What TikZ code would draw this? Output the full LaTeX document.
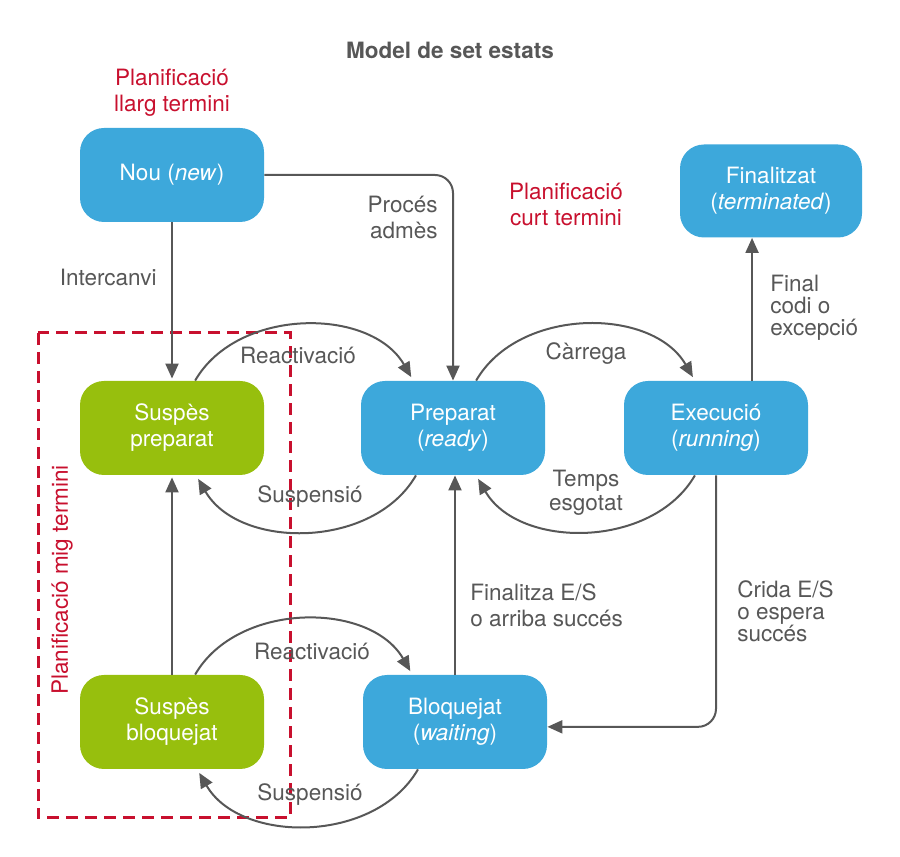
\documentclass[tikz,border=0pt]{standalone}
\usepackage{fontspec}
\setmainfont{TeX Gyre Heros}
\usetikzlibrary{arrows.meta}
\definecolor{stblue}{HTML}{3DA8DB}
\definecolor{stgreen}{HTML}{97BF0D}
\definecolor{stred}{HTML}{C8102E}
\definecolor{stgray}{HTML}{575757}
\begin{document}
\begin{tikzpicture}[x=0.5pt, y=0.5pt,
  font=\fontsize{11.25}{13}\selectfont,
  state/.style={rounded corners=12pt, minimum width=92pt, minimum height=47pt, text=white, align=center, inner sep=0pt},
  bluestate/.style={state, fill=stblue},
  greenstate/.style={state, fill=stgreen},
  lbl/.style={text=stgray, align=center, inner sep=0pt},
  plan/.style={text=stred, align=center, inner sep=0pt},
  arr/.style={draw=stgray, line width=1pt, -{Triangle[length=7.5pt,width=6.5pt]}}]
\useasboundingbox (0,0) rectangle (900,857);
\node[lbl, font=\fontsize{11.25}{13}\selectfont\bfseries] (title) at (450,807){Model de set estats};
\node[plan] (llarg) at (172,764){Planificació\\llarg termini};
\node[plan] (curt) at (566,653){Planificació\\curt termini};
\draw[stred, line width=1.5pt, dash pattern=on 6pt off 3.5pt] (38,524) rectangle (290,39);
\node[plan, rotate=90] (mig) at (62,277){Planificació mig termini};
\node[bluestate] (nou) at (172,682){Nou (\textit{new})};
\node[bluestate, minimum width=91pt, minimum height=46.5pt] (fin) at (771,666){Finalitzat\\(\textit{terminated})};
\node[greenstate] (susprep) at (172,429){Suspès\\preparat};
\node[bluestate] (prep) at (453,429){Preparat\\(\textit{ready})};
\node[bluestate] (exec) at (716,429){Execució\\(\textit{running})};
\node[greenstate] (suspbloq) at (172,135){Suspès\\bloquejat};
\node[bluestate] (bloq) at (455,135){Bloquejat\\(\textit{waiting})};
\draw[arr, shorten >=1pt] (nou) -- (susprep);
\node[lbl, anchor=east] (interc) at (157,580){Intercanvi};
\draw[arr, rounded corners=9pt] (nou.east) -| (prep.north);
\node[lbl, anchor=east, align=right] (admes) at (438,640){Procés\\admès};
\draw[arr, shorten >=2pt] (susprep.64) to[bend left=60] (prep.130);
\node[lbl] (react1) at (298,502){Reactivació};
\draw[arr, shorten >=2pt] (prep.-128) to[bend left=60] (susprep.-63);
\node[lbl] (susp1) at (310,360){Suspensió};
\draw[arr, shorten >=2pt] (prep.64) to[bend left=60] (exec.114);
\node[lbl] (carrega) at (586,503){Càrrega};
\draw[arr, shorten >=2pt] (exec.-114) to[bend left=60] (prep.-64);
\node[lbl, font=\fontsize{11.25}{12}\selectfont] (temps) at (586,364){Temps\\esgotat};
\draw[arr] (exec.north -| fin.-112) -- (fin.-112);
\node[lbl, anchor=west, align=left, font=\fontsize{11.25}{11}\selectfont] (final) at (770,549){Final\\codi o\\excepció};
\draw[arr, rounded corners=9pt] (exec.south) |- (bloq.-3);
\node[lbl, anchor=west, align=left, font=\fontsize{11.25}{11}\selectfont] (crida) at (737,246){Crida E/S\\o espera\\succés};
\draw[arr] (bloq.north) -- (prep.south -| bloq.north);
\node[lbl, anchor=west, align=left] (finalitza) at (470,252){Finalitza E/S\\o arriba succés};
\draw[arr, shorten >=1pt] (suspbloq) -- (susprep);
\draw[arr, shorten >=2pt] (suspbloq.64) to[bend left=60] (bloq.132);
\node[lbl] (react2) at (312,206){Reactivació};
\draw[arr, shorten >=2pt] (bloq.-128) to[bend left=60] (suspbloq.-62);
\node[lbl] (susp2) at (310,62){Suspensió};
\end{tikzpicture}
\end{document}
